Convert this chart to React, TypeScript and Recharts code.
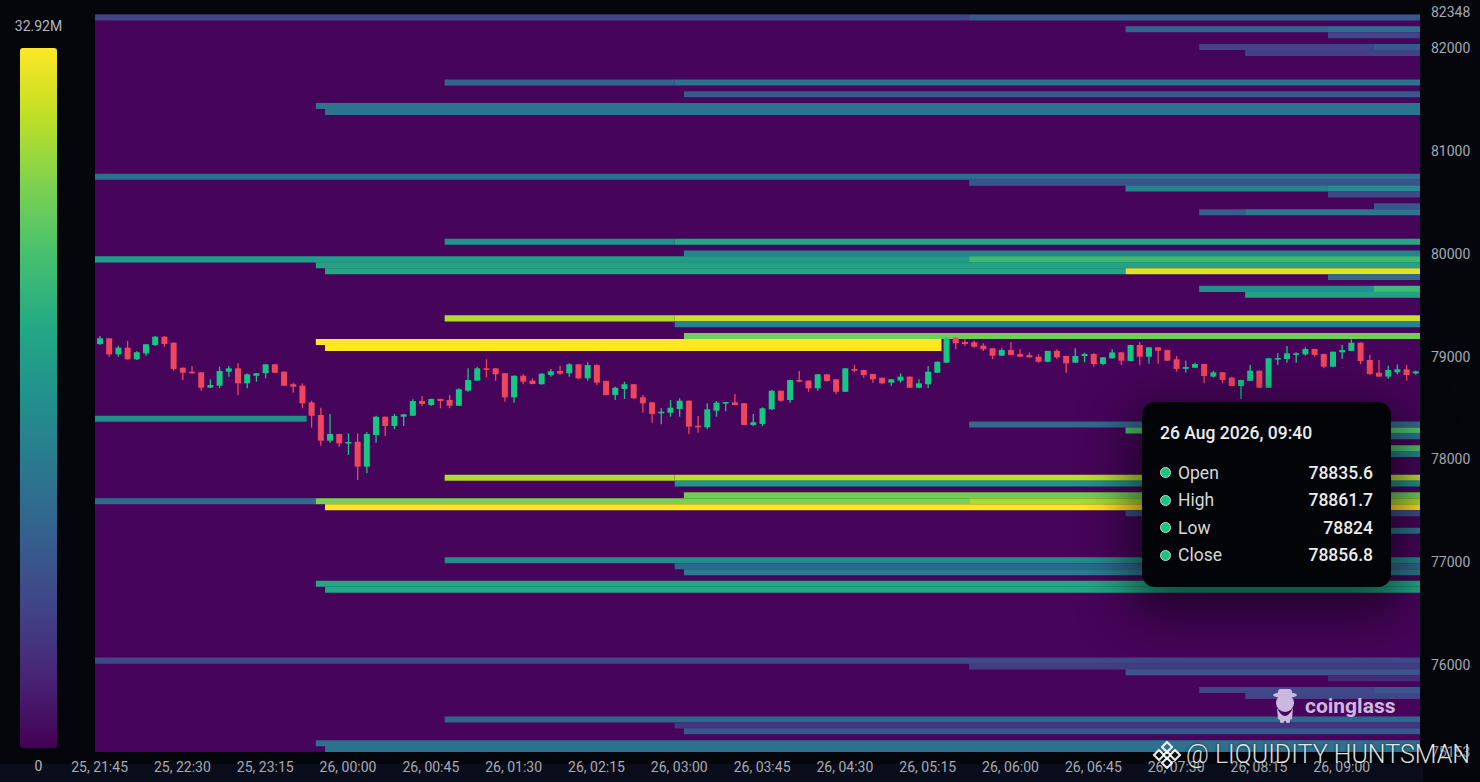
import { Bar, ComposedChart, ReferenceArea, XAxis, YAxis } from 'recharts';

// 5-minute candles, 25 21:45 -> 26 09:40
const OPEN = [
    79123, 79178, 79022, 79087, 78974, 79032, 79113, 79194, 79135, 78892,
    78853, 78847, 78698, 78717, 78853, 78886, 78740, 78814, 78838, 78925,
    78853, 78731, 78717, 78555, 78432, 78182, 78247, 78156, 78172, 77929,
    78237, 78415, 78325, 78415, 78425, 78568, 78529, 78588, 78578, 78522,
    78668, 78766, 78886, 78886, 78838, 78604, 78814, 78766, 78731, 78821,
    78860, 78838, 78925, 78789, 78918, 78763, 78626, 78685, 78731, 78604,
    78555, 78448, 78454, 78490, 78571, 78328, 78312, 78474, 78546, 78555,
    78546, 78335, 78345, 78487, 78668, 78578, 78772, 78766, 78692, 78828,
    78779, 78658, 78880, 78870, 78831, 78795, 78746, 78766, 78805, 78697,
    78731, 78843, 78941, 79184, 79142, 79139, 79106, 79081, 79009, 79064,
    79025, 79015, 78999, 78950, 79055, 79006, 78941, 79006, 79025, 78928,
    78983, 79041, 78957, 79113, 78999, 79090, 79064, 78974, 78880, 78892,
    78928, 78805, 78847, 78795, 78714, 78763, 78863, 78697, 78974, 78977,
    79022, 79022, 79074, 79025, 78902, 79042, 79055, 79135, 78967, 78843,
    78805, 78847, 78876, 78835.6,
];
const HIGH = [
    79200, 79181, 79106, 79152, 79052, 79120, 79200, 79200, 79140, 78895,
    78909, 78850, 78779, 78902, 78909, 78935, 78835, 78840, 78928, 78928,
    78855, 78746, 78740, 78571, 78503, 78442, 78250, 78254, 78254, 78264,
    78425, 78417, 78442, 78442, 78585, 78617, 78590, 78590, 78626, 78692,
    78886, 78902, 78974, 78889, 78840, 78816, 78828, 78789, 78836, 78879,
    78912, 78935, 78928, 78944, 78925, 78766, 78707, 78756, 78734, 78626,
    78558, 78497, 78578, 78594, 78573, 78422, 78546, 78568, 78560, 78636,
    78548, 78442, 78507, 78675, 78670, 78774, 78860, 78768, 78830, 78830,
    78782, 78889, 78918, 78872, 78833, 78797, 78782, 78838, 78807, 78779,
    78909, 78952, 79188, 79186, 79168, 79155, 79130, 79084, 79081, 79139,
    79071, 79040, 79023, 79057, 79071, 79008, 79081, 79038, 79032, 78996,
    79071, 79044, 79115, 79139, 79093, 79093, 79066, 79006, 78960, 78941,
    78930, 78863, 78850, 78805, 78774, 78918, 78865, 78986, 79032, 79103,
    79042, 79090, 79076, 79027, 79050, 79113, 79168, 79137, 79016, 78967,
    78912, 78925, 78918, 78861.7,
];
const LOW = [
    79113, 78999, 78999, 78970, 78967, 79009, 79103, 79096, 78863, 78772,
    78835, 78668, 78695, 78695, 78805, 78623, 78692, 78756, 78789, 78840,
    78714, 78649, 78497, 78308, 78133, 78162, 78123, 78043, 77799, 77865,
    78162, 78228, 78293, 78325, 78422, 78519, 78519, 78497, 78497, 78520,
    78658, 78764, 78799, 78766, 78561, 78551, 78731, 78731, 78729, 78805,
    78824, 78805, 78782, 78766, 78724, 78623, 78578, 78588, 78588, 78454,
    78357, 78341, 78415, 78415, 78247, 78260, 78293, 78415, 78468, 78526,
    78332, 78325, 78325, 78480, 78561, 78551, 78750, 78658, 78668, 78756,
    78636, 78656, 78847, 78795, 78746, 78731, 78717, 78746, 78695, 78692,
    78692, 78840, 78938, 79071, 79103, 79087, 79055, 78977, 79007, 79014,
    78996, 78991, 78941, 78944, 78977, 78843, 78938, 78944, 78902, 78917,
    78981, 78917, 78955, 78917, 78930, 78930, 78957, 78853, 78843, 78889,
    78740, 78795, 78740, 78711, 78588, 78761, 78695, 78695, 78918, 78941,
    78941, 79009, 78999, 78886, 78899, 78977, 79053, 78925, 78821, 78803,
    78782, 78828, 78766, 78824,
];
const CLOSE = [
    79178, 79022, 79087, 78974, 79042, 79120, 79194, 79123, 78880, 78843,
    78838, 78698, 78724, 78860, 78886, 78740, 78828, 78838, 78925, 78843,
    78717, 78707, 78546, 78425, 78182, 78247, 78156, 78169, 77929, 78247,
    78415, 78325, 78422, 78438, 78568, 78539, 78588, 78568, 78522, 78682,
    78772, 78886, 78876, 78828, 78604, 78814, 78756, 78734, 78834, 78857,
    78834, 78925, 78789, 78918, 78746, 78626, 78697, 78731, 78595, 78546,
    78442, 78464, 78503, 78571, 78318, 78312, 78487, 78552, 78558, 78529,
    78335, 78361, 78497, 78668, 78571, 78772, 78756, 78692, 78828, 78763,
    78658, 78886, 78863, 78821, 78779, 78740, 78779, 78805, 78697, 78740,
    78853, 78950, 79178, 79130, 79123, 79096, 79071, 79009, 79064, 79015,
    78999, 78993, 78950, 79055, 78993, 78935, 79006, 79025, 78928, 78993,
    79041, 78960, 79113, 78999, 79090, 79057, 78960, 78880, 78899, 78928,
    78811, 78847, 78772, 78714, 78772, 78863, 78697, 78983, 78986, 79032,
    79032, 79074, 79015, 78902, 79048, 79064, 79135, 78957, 78831, 78805,
    78870, 78876, 78821, 78856.8,
];

const FIRST_DAY = 25;
const FIRST_MINUTE = 21 * 60 + 45;
const CANDLE_MINUTES = 5;

// price axis
const PRICE_MIN = 75153;
const PRICE_MAX = 82348;
const Y_TICKS = [75153, 76000, 77000, 78000, 79000, 80000, 81000, 82000, 82348];

// liquidation heatmap: price bin centre, from, to, amount (M USD)
const BIN = 57.4;
const BIN_ROWS = 125;
const SCALE_MAX = 32.92;
const HEAT_BANDS: [number, string, string, number][] = [
    [82299, '25, 21:45', '26, 05:35', 6.6],
    [82299, '26, 05:40', '26, 09:40', 9.2],
    [82185, '26, 07:05', '26, 08:50', 10.5],
    [82185, '26, 08:55', '26, 09:40', 11.9],
    [82127, '26, 08:55', '26, 09:40', 6.6],
    [82013, '26, 07:45', '26, 09:15', 6.6],
    [82013, '26, 09:20', '26, 09:40', 9.2],
    [81955, '26, 08:10', '26, 09:40', 6.3],
    [81668, '26, 00:55', '26, 02:55', 10.9],
    [81668, '26, 03:00', '26, 09:40', 12.5],
    [81553, '26, 03:05', '26, 09:40', 9.2],
    [81439, '25, 23:45', '26, 09:40', 12.5],
    [81381, '25, 23:50', '26, 09:40', 12.5],
    [80750, '25, 21:45', '26, 09:40', 11.9],
    [80692, '26, 05:40', '26, 09:40', 8.6],
    [80635, '26, 07:05', '26, 08:50', 14.8],
    [80635, '26, 08:55', '26, 09:40', 15.8],
    [80578, '26, 08:55', '26, 09:40', 7.2],
    [80463, '26, 09:20', '26, 09:40', 8.6],
    [80405, '26, 07:45', '26, 08:05', 9.9],
    [80405, '26, 08:10', '26, 09:40', 13.2],
    [80118, '26, 00:55', '26, 02:55', 16.5],
    [80118, '26, 03:00', '26, 09:40', 19.8],
    [80004, '26, 03:05', '26, 09:40', 14.8],
    [79946, '25, 21:45', '26, 05:35', 18.1],
    [79946, '26, 05:40', '26, 09:40', 22.4],
    [79889, '25, 23:45', '26, 09:40', 19.1],
    [79831, '25, 23:50', '26, 07:00', 19.8],
    [79831, '26, 07:05', '26, 09:40', 31.3],
    [79774, '26, 08:55', '26, 09:40', 11.5],
    [79659, '26, 07:45', '26, 09:15', 16.5],
    [79659, '26, 09:20', '26, 09:40', 22.4],
    [79601, '26, 08:10', '26, 09:40', 19.1],
    [79372, '26, 00:55', '26, 02:55', 29.0],
    [79372, '26, 03:00', '26, 09:40', 30.3],
    [79314, '26, 03:00', '26, 09:40', 14.8],
    [79200, '26, 03:05', '26, 09:40', 25.7],
    [79142, '25, 23:45', '26, 05:20', 32.9],
    [79085, '25, 23:50', '26, 05:20', 32.9],
    [78396, '25, 21:45', '25, 23:35', 16.5],
    [78339, '26, 05:40', '26, 09:40', 11.5],
    [78281, '26, 07:05', '26, 09:40', 23.7],
    [78224, '26, 08:55', '26, 09:40', 13.2],
    [78109, '26, 08:10', '26, 09:40', 23.7],
    [78052, '26, 09:20', '26, 09:40', 14.8],
    [77822, '26, 00:55', '26, 02:55', 29.0],
    [77822, '26, 03:00', '26, 09:40', 29.6],
    [77765, '26, 03:00', '26, 09:40', 16.5],
    [77650, '26, 03:05', '26, 09:40', 25.7],
    [77592, '25, 21:45', '25, 23:40', 11.5],
    [77592, '25, 23:45', '26, 05:35', 26.3],
    [77592, '26, 05:40', '26, 09:40', 28.6],
    [77535, '25, 23:50', '26, 09:40', 32.9],
    [77477, '26, 07:05', '26, 09:40', 8.2],
    [77305, '26, 08:10', '26, 09:40', 13.2],
    [77018, '26, 00:55', '26, 09:40', 15.8],
    [76961, '26, 03:00', '26, 09:40', 10.9],
    [76903, '26, 03:05', '26, 09:40', 13.8],
    [76789, '25, 23:45', '26, 09:40', 19.8],
    [76731, '25, 23:50', '26, 09:40', 19.8],
    [76042, '25, 21:45', '26, 09:40', 7.2],
    [75985, '26, 05:40', '26, 09:40', 5.9],
    [75928, '26, 07:05', '26, 09:40', 8.9],
    [75870, '26, 08:55', '26, 09:40', 4.0],
    [75756, '26, 07:45', '26, 09:15', 7.2],
    [75756, '26, 09:20', '26, 09:40', 8.9],
    [75698, '26, 08:10', '26, 09:40', 6.6],
    [75469, '26, 00:55', '26, 09:40', 10.9],
    [75411, '26, 03:00', '26, 09:40', 4.9],
    [75354, '26, 03:05', '26, 09:40', 9.2],
    [75239, '25, 23:45', '26, 09:40', 12.2],
    [75182, '25, 23:50', '26, 09:40', 12.2],
];

const TOOLTIP_DATE = '26 Aug 2026, 09:40';

const VIRIDIS = [
    '#440154', '#482475', '#414487', '#355f8d', '#2a788e', '#21918c',
    '#22a884', '#44bf70', '#7ad151', '#bddf26', '#fde725',
];
const GREEN = '#16c784';
const RED = '#f0465b';
const HEAT_BG = '#46045a';
const AXIS_TEXT = '#a6aab3';
const FONT = 'Roboto, "Noto Sans", sans-serif';

const pad = (n: number) => String(n).padStart(2, '0');

const TIMES = OPEN.map((_, i) => {
    const total = FIRST_MINUTE + i * CANDLE_MINUTES;
    const day = FIRST_DAY + Math.floor(total / 1440);
    const m = total % 1440;
    return `${day}, ${pad(Math.floor(m / 60))}:${pad(m % 60)}`;
});

const candles = TIMES.map((time, i) => ({
    time,
    open: OPEN[i],
    close: CLOSE[i],
    high: Math.max(HIGH[i], OPEN[i], CLOSE[i]),
    low: Math.min(LOW[i], OPEN[i], CLOSE[i]),
}));

const hexToRgb = (hex: string) => [1, 3, 5].map((k) => parseInt(hex.slice(k, k + 2), 16));

const viridis = (t: number) => {
    const c = Math.min(1, Math.max(0, t)) * (VIRIDIS.length - 1);
    const i = Math.min(VIRIDIS.length - 2, Math.floor(c));
    const f = c - i;
    const a = hexToRgb(VIRIDIS[i]);
    const b = hexToRgb(VIRIDIS[i + 1]);
    const rgb = a.map((v, k) => Math.round(v + (b[k] - v) * f));
    return `rgb(${rgb.join(',')})`;
};

const CandleShape = (props: any) => {
    const { x, y, width, height, payload } = props;
    if (x == null || !payload) return null;
    const { open, close, high, low } = payload;
    const span = high - low;
    const pxPer = span > 0 ? height / span : 0;
    const yOf = (v: number) => y + (high - v) * pxPer;
    const color = close >= open ? GREEN : RED;
    const top = yOf(Math.max(open, close));
    const bottom = yOf(Math.min(open, close));
    const cx = x + width / 2;
    return (
        <g>
            <line x1={cx} x2={cx} y1={y} y2={y + height} stroke={color} strokeWidth={1.3} />
            <rect x={x} y={top} width={width} height={Math.max(1.6, bottom - top)} fill={color} />
        </g>
    );
};

const CoinglassMark = () => (
    <svg width={30} height={36} viewBox='0 0 30 36'>
        <g fill='#cbb8de'>
            <ellipse cx={15} cy={7} rx={12} ry={3} />
            <rect x={8} y={1} width={14} height={7} rx={3} />
            <circle cx={15} cy={15} r={9} />
            <path d='M7 20 Q15 36 23 20 L22 31 Q15 35 8 31 Z' />
            <rect x={10} y={29} width={4} height={6} rx={1.5} />
            <rect x={16} y={29} width={4} height={6} rx={1.5} />
        </g>
    </svg>
);

const BinanceMark = () => (
    <svg width={30} height={30} viewBox='0 0 30 30'>
        <g fill='none' stroke='rgba(255,255,255,0.9)' strokeWidth={2.2} strokeLinejoin='round'>
            <path d='M15 2 L20 7 L15 12 L10 7 Z' />
            <path d='M7 10 L12 15 L7 20 L2 15 Z' />
            <path d='M23 10 L28 15 L23 20 L18 15 Z' />
            <path d='M15 18 L20 23 L15 28 L10 23 Z' />
            <path d='M15 11.5 L18.5 15 L15 18.5 L11.5 15 Z' />
        </g>
    </svg>
);

const tooltipRows = [
    ['Open', OPEN[OPEN.length - 1]],
    ['High', HIGH[HIGH.length - 1]],
    ['Low', LOW[LOW.length - 1]],
    ['Close', CLOSE[CLOSE.length - 1]],
] as const;

export default function App() {
    const gridTop = PRICE_MIN + BIN_ROWS * BIN;
    const half = BIN * 0.51;
    return (
        <div
            style={{
                position: 'fixed',
                left: 0,
                top: 0,
                width: 1480,
                height: 782,
                overflow: 'hidden',
                background: '#04060b',
                fontFamily: FONT,
            }}
        >
            <div style={{ position: 'absolute', left: 0, top: 764, width: 1423, height: 18, background: '#0a0e1c' }} />

            <div style={{ position: 'absolute', left: 0, top: 0 }}>
                <ComposedChart
                    width={1480}
                    height={782}
                    data={candles}
                    margin={{ top: 12.5, right: 0, bottom: 0, left: 95 }}
                >
                    <XAxis
                        dataKey='time'
                        interval={8}
                        height={30}
                        axisLine={false}
                        tickLine={false}
                        tickSize={0}
                        tickMargin={10}
                        tick={{ fill: AXIS_TEXT, fontSize: 14, fontFamily: FONT }}
                    />
                    <YAxis
                        orientation='right'
                        type='number'
                        domain={[PRICE_MIN, PRICE_MAX]}
                        ticks={Y_TICKS}
                        allowDataOverflow
                        width={60}
                        axisLine={false}
                        tickLine={false}
                        tickSize={0}
                        tickMargin={11}
                        tick={{ fill: AXIS_TEXT, fontSize: 14, fontFamily: FONT }}
                    />
                    <ReferenceArea
                        y1={PRICE_MIN}
                        y2={gridTop}
                        fill={HEAT_BG}
                        fillOpacity={1}
                        stroke='none'
                    />
                    {HEAT_BANDS.map(([price, from, to, value], i) => (
                        <ReferenceArea
                            key={i}
                            x1={from}
                            x2={to}
                            y1={price - half}
                            y2={price + half}
                            fill={viridis(value / SCALE_MAX)}
                            fillOpacity={1}
                            stroke='none'
                            ifOverflow='hidden'
                        />
                    ))}
                    <Bar
                        dataKey={(d: any) => [d.low, d.high]}
                        barSize={6}
                        shape={(p: any) => <CandleShape {...p} />}
                        isAnimationActive={false}
                    />
                </ComposedChart>
            </div>

            {/* colour scale */}
            <div
                style={{
                    position: 'absolute',
                    left: 0,
                    top: 18,
                    width: 77,
                    textAlign: 'center',
                    color: '#b4b8c0',
                    fontSize: 14,
                }}
            >
                {`${SCALE_MAX}M`}
            </div>
            <div
                style={{
                    position: 'absolute',
                    left: 20,
                    top: 48,
                    width: 37,
                    height: 700,
                    borderRadius: 3,
                    background: `linear-gradient(to top, ${VIRIDIS.join(', ')})`,
                }}
            />
            <div
                style={{
                    position: 'absolute',
                    left: 0,
                    top: 758,
                    width: 77,
                    textAlign: 'center',
                    color: '#b4b8c0',
                    fontSize: 14,
                }}
            >
                0
            </div>

            {/* watermarks */}
            <div style={{ position: 'absolute', left: 1270, top: 688 }}>
                <CoinglassMark />
            </div>
            <div
                style={{
                    position: 'absolute',
                    left: 1305,
                    top: 693,
                    color: '#cbb8de',
                    fontSize: 21,
                    fontWeight: 700,
                    lineHeight: '26px',
                }}
            >
                coinglass
            </div>
            <div style={{ position: 'absolute', left: 1152, top: 740 }}>
                <BinanceMark />
            </div>
            <div
                style={{
                    position: 'absolute',
                    left: 1186,
                    top: 740,
                    color: 'rgba(255,255,255,0.88)',
                    fontSize: 25,
                    fontWeight: 300,
                    lineHeight: '30px',
                    whiteSpace: 'nowrap',
                    textShadow: '0 0 3px rgba(0,0,0,0.7)',
                }}
            >
                @ LIQUIDITY HUNTSMAN
            </div>

            {/* tooltip for the last candle */}
            <div
                style={{
                    position: 'absolute',
                    left: 1142,
                    top: 402,
                    width: 249,
                    height: 185,
                    borderRadius: 13,
                    background: '#030408',
                    boxShadow: '0 16px 50px 12px rgba(0,0,0,0.55)',
                    color: '#ececec',
                    boxSizing: 'border-box',
                    padding: '20px 18px 0 18px',
                }}
            >
                <div style={{ fontSize: 17.5, fontWeight: 500, lineHeight: '22px' }}>{TOOLTIP_DATE}</div>
                <div style={{ marginTop: 15 }}>
                    {tooltipRows.map(([label, value]) => (
                        <div
                            key={label}
                            style={{
                                display: 'flex',
                                alignItems: 'center',
                                height: 27.5,
                                fontSize: 17.5,
                            }}
                        >
                            <span
                                style={{
                                    width: 9,
                                    height: 9,
                                    borderRadius: '50%',
                                    background: GREEN,
                                    border: '1.5px solid #cfd3d6',
                                    marginRight: 7,
                                    flex: 'none',
                                }}
                            />
                            <span style={{ color: '#d6d8dc' }}>{label}</span>
                            <span style={{ marginLeft: 'auto', fontWeight: 500 }}>{String(value)}</span>
                        </div>
                    ))}
                </div>
            </div>
        </div>
    );
}
